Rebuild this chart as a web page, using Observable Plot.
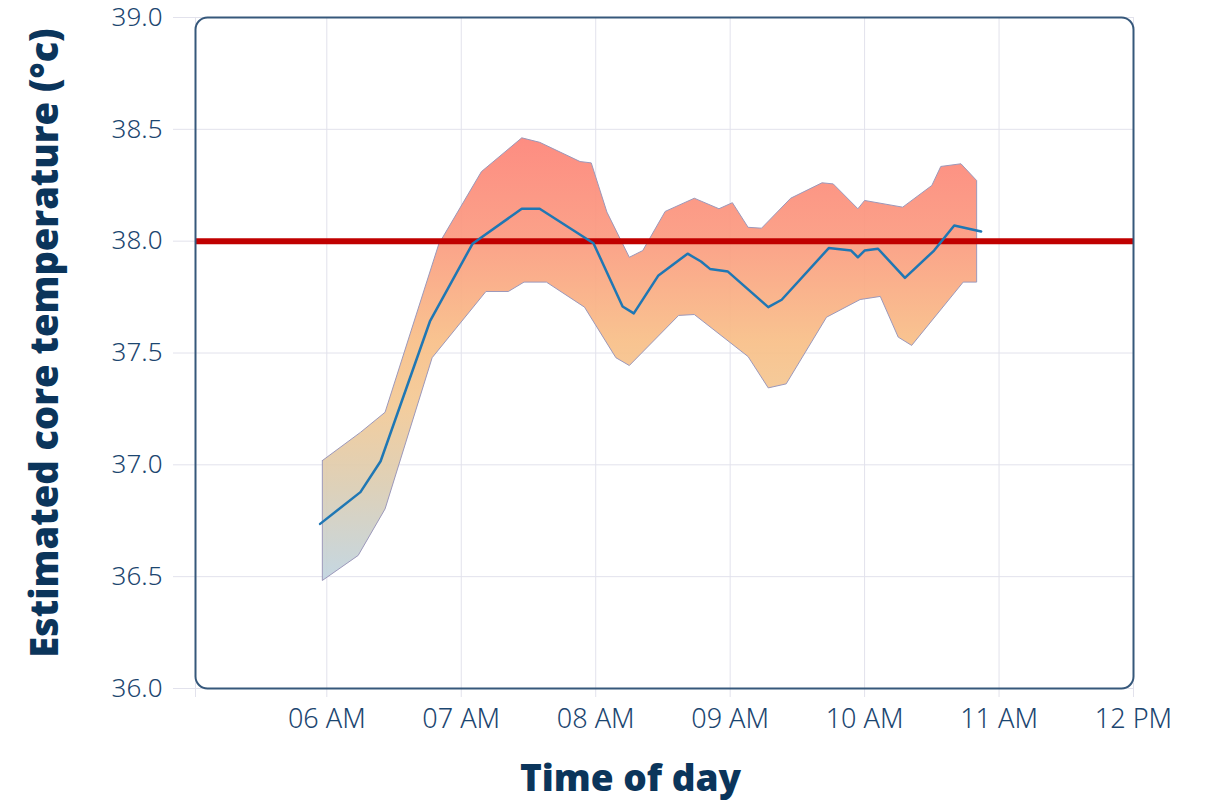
<!DOCTYPE html>
<html>
<head>
<meta charset="utf-8">
<script src="https://cdn.jsdelivr.net/npm/d3@7"></script>
<script src="https://cdn.jsdelivr.net/npm/@observablehq/plot@0.6"></script>
<style>
  body { margin: 0; background: #fff; }
  #chart svg { display: block; }
</style>
</head>
<body>
<div id="chart"></div>
<script>
// ---- Data ----
const lineTimes = ["05:57","06:15","06:24","06:46","07:05","07:27","07:35","07:59","08:12","08:17","08:28","08:41","08:47","08:51","08:59","09:17","09:23","09:44","09:54","09:57","10:00","10:06","10:18","10:31","10:40","10:52"];
const lineValues = [36.736,36.878,37.016,37.641,37.988,38.145,38.145,37.991,37.708,37.677,37.847,37.944,37.909,37.876,37.864,37.705,37.738,37.969,37.958,37.928,37.958,37.966,37.836,37.958,38.070,38.043];

const upperTimes = ["05:58","06:15","06:26","06:50","07:09","07:27","07:35","07:53","07:58","08:05","08:15","08:21","08:31","08:44","08:55","09:01","09:08","09:14","09:27","09:41","09:46","09:57","10:00","10:17","10:30","10:34","10:43","10:50"];
const upperValues = [37.019,37.145,37.235,37.988,38.311,38.462,38.442,38.356,38.350,38.130,37.928,37.958,38.133,38.192,38.145,38.172,38.062,38.058,38.192,38.261,38.256,38.145,38.182,38.152,38.249,38.334,38.346,38.271];

const lowerTimes = ["05:58","06:14","06:26","06:47","07:11","07:21","07:28","07:38","07:55","08:09","08:15","08:37","08:44","09:08","09:17","09:25","09:43","09:58","10:07","10:15","10:21","10:44","10:50"];
const lowerValues = [36.483,36.595,36.803,37.479,37.775,37.775,37.817,37.817,37.705,37.479,37.444,37.668,37.672,37.484,37.344,37.362,37.660,37.739,37.753,37.571,37.534,37.817,37.817];

const threshold = 38.0;
const yTicks = [36.0, 36.5, 37.0, 37.5, 38.0, 38.5, 39.0];
const xTickTimes = ["06:00","07:00","08:00","09:00","10:00","11:00","12:00"];
const xDomainTimes = ["05:01:24","12:00"];
const xTitle = "Time of day";
const yTitle = "Estimated core temperature (°c)";

// ---- Build ----
const t = s => { const [h, m, sec] = s.split(":").map(Number); return new Date(Date.UTC(2024, 0, 1, h, m, sec || 0)); };
const lineData = lineTimes.map((s, i) => ({time: t(s), value: lineValues[i]}));
const upper = upperTimes.map((s, i) => ({time: t(s), value: upperValues[i]}));
const lower = lowerTimes.map((s, i) => ({time: t(s), value: lowerValues[i]}));
const band = [...upper, ...lower.slice().reverse(), upper[0]];
const xDomain = xDomainTimes.map(t);
const xTicks = [xDomain[0], ...xTickTimes.map(t)];
const fmt = d3.utcFormat("%I %p");

const navy = "#0b355b";
const tickText = "#1c4670";
const gridColor = "#e2e2ec";

const gradientDefs = () => {
  const defs = d3.create("svg:defs");
  const g = defs.append("linearGradient").attr("id", "bandGrad")
    .attr("x1", 0).attr("y1", 0).attr("x2", 0).attr("y2", 1);
  [[0, "#fd8478"], [0.22, "#fb9a80"], [0.46, "#f8bf88"], [0.6, "#f3c995"], [0.78, "#dccdb2"], [1, "#c0d4e0"]]
    .forEach(([o, c]) => g.append("stop").attr("offset", o).attr("stop-color", c));
  return defs.node();
};

const chart = Plot.plot({
  width: 1207,
  height: 802,
  marginTop: 17,
  marginRight: 74,
  marginBottom: 114,
  marginLeft: 195,
  style: {fontFamily: "'Noto Sans', sans-serif", background: "#fff"},
  x: {type: "utc", domain: xDomain},
  y: {domain: [36, 39]},
  marks: [
    gradientDefs,
    Plot.gridY(yTicks, {stroke: gridColor, strokeOpacity: 1}),
    Plot.gridX(xTicks, {stroke: gridColor, strokeOpacity: 1}),
    Plot.axisY({ticks: yTicks, tickFormat: d3.format(".1f"), tickSize: 22, tickPadding: 11,
      stroke: gridColor, strokeOpacity: 1, fill: tickText, fontSize: 26, fontWeight: 300, label: null}),
    Plot.axisX({ticks: xTicks, tickFormat: d => d.getUTCMinutes() ? "" : fmt(d), tickSize: 9, tickPadding: 11,
      stroke: gridColor, strokeOpacity: 1, fill: tickText, fontSize: 27, fontWeight: 300, label: null}),
    Plot.line(band, {x: "time", y: "value", fill: "url(#bandGrad)", fillOpacity: 0.93, stroke: "#9c98ba", strokeWidth: 1}),
    Plot.ruleY([threshold], {stroke: "#c00000", strokeWidth: 6}),
    Plot.line(lineData, {x: "time", y: "value", stroke: "#1f77b4", strokeWidth: 2.5}),
    Plot.frame({stroke: "#36587b", strokeWidth: 2, rx: 12}),
    Plot.text([xTitle], {frameAnchor: "bottom", dx: -34, dy: 102, fontSize: 37, fontWeight: 800,
      fontFamily: "'Open Sans', sans-serif", fill: navy}),
    Plot.text([yTitle], {frameAnchor: "left", textAnchor: "middle", dx: -150, dy: -10, rotate: -90, fontSize: 38, fontWeight: 800,
      fontFamily: "'Open Sans', sans-serif", fill: navy})
  ]
});
document.getElementById("chart").append(chart);
</script>
</body>
</html>
